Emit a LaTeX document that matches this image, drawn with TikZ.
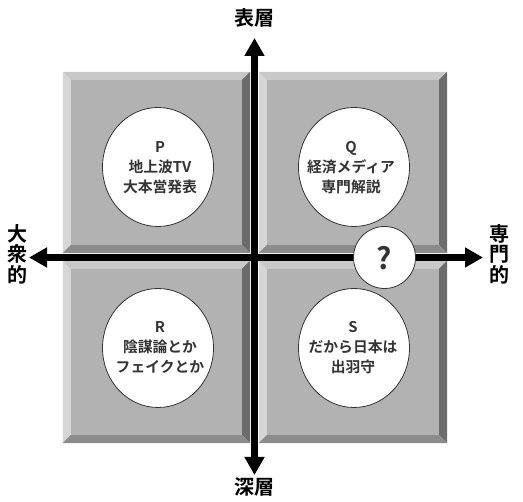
\documentclass[tikz,border=0pt]{standalone}
\usepackage{fontspec}
\setmainfont{Noto Sans CJK JP}[BoldFont={* Bold}]
\usetikzlibrary{arrows.meta,calc,shapes.geometric}
\definecolor{face}{HTML}{B2B2B2}
\definecolor{bvtop}{HTML}{C8C8C8}
\definecolor{bvleft}{HTML}{D6D6D6}
\definecolor{bvright}{HTML}{6C6C6C}
\definecolor{bvbot}{HTML}{8C8C8C}
\definecolor{txt}{HTML}{333333}
\tikzset{
  quad/.style={rectangle, inner sep=0pt, fill=face},
  bubble/.style={ellipse, draw=black!80, line width=0.8pt, fill=white, inner sep=0pt,
    minimum width=111pt, minimum height=119pt},
  qbubble/.style={circle, draw=black!80, line width=0.8pt, fill=white, inner sep=0pt,
    minimum size=62pt},
  btext/.style={align=center, font=\fontsize{14.8pt}{20pt}\selectfont\bfseries, text=txt},
  axis2/.style={line width=7pt, {Triangle[length=18pt,width=19pt]}-{Triangle[length=18pt,width=19pt]}},
  lbl/.style={align=center, font=\fontsize{20pt}{20.5pt}\selectfont\bfseries, text=black, inner sep=0pt},
}
\newcommand\bevelbox[1]{%
  \fill[bvtop] (#1.north west) -- (#1.north east) -- ($(#1.north east)+(-8,8)$) -- ($(#1.north west)+(8,8)$) -- cycle;
  \fill[bvleft] (#1.north west) -- ($(#1.north west)+(8,8)$) -- ($(#1.south west)+(8,-8)$) -- (#1.south west) -- cycle;
  \fill[bvright] (#1.north east) -- (#1.south east) -- ($(#1.south east)+(-8,-8)$) -- ($(#1.north east)+(-8,8)$) -- cycle;
  \fill[bvbot] (#1.south west) -- (#1.south east) -- ($(#1.south east)+(-8,-8)$) -- ($(#1.south west)+(8,-8)$) -- cycle;
}
\begin{document}
\begin{tikzpicture}[x=1pt,y=-1pt]
\useasboundingbox (0,0) rectangle (523,502);
% quadrants
\node[quad, minimum width=187pt, minimum height=181pt] (boxP) at (156.5,162.5) {};
\node[quad, minimum width=188pt, minimum height=181pt] (boxQ) at (353,162.5) {};
\node[quad, minimum width=187pt, minimum height=182pt] (boxR) at (156.5,352) {};
\node[quad, minimum width=188pt, minimum height=182pt] (boxS) at (353,352) {};
\bevelbox{boxP}
\bevelbox{boxQ}
\bevelbox{boxR}
\bevelbox{boxS}
% bubbles
\node[bubble] (cP) at (158,167) {};
\node[btext] (tP) at ($(cP)+(2,1)$) {P\\地上波TV\\大本営発表};
\node[bubble] (cQ) at (354,167) {};
\node[btext] (tQ) at ($(cQ)+(-3,1)$) {Q\\経済メディア\\専門解説};
\node[bubble] (cR) at (158,348) {};
\node[btext] (tR) at ($(cR)+(2,0)$) {R\\陰謀論とか\\フェイクとか};
\node[bubble] (cS) at (354,348) {};
\node[btext] (tS) at ($(cS)+(-1,0)$) {S\\だから日本は\\出羽守};
% axes
\coordinate (aTop) at (254.5,38);
\coordinate (aBot) at (254.5,475);
\coordinate (aLeft) at (29,257.5);
\coordinate (aRight) at (483,257.5);
\draw[axis2] (aLeft) -- (aRight);
\draw[axis2] (aBot) -- (aTop);
% question bubble
\node[qbubble] (cQm) at (384.5,257.5) {};
\node[font=\fontsize{30pt}{30pt}\selectfont\bfseries, text=txt] (tQm) at ($(cQm)+(0,1)$) {?};
% labels
\node[lbl] (lTop) at (254,18) {表層};
\node[lbl] (lBot) at (254,487) {深層};
\node[lbl] (lLeft) at (17,254) {大\\衆\\的};
\node[lbl] (lRight) at (499,254) {専\\門\\的};
\end{tikzpicture}
\end{document}
